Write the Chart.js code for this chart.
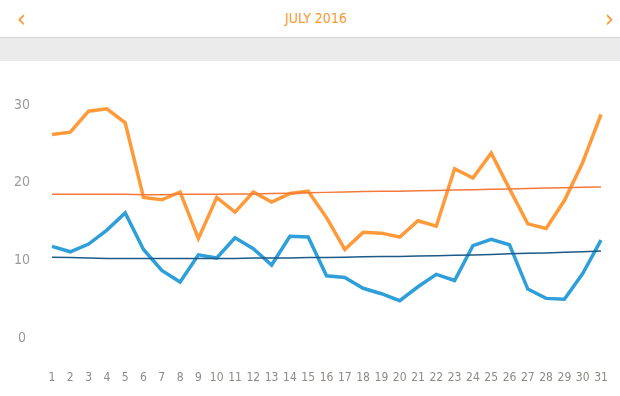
<!DOCTYPE html>
<html>
<head>
<meta charset="utf-8">
<script src="https://cdn.jsdelivr.net/npm/chart.js@4/dist/chart.umd.min.js"></script>
<style>
  html, body { margin: 0; padding: 0; background: #fff; }
  body { width: 620px; height: 396px; overflow: hidden; font-family: 'Liberation Sans Narrow', 'DejaVu Sans Condensed', sans-serif; }
  .head { position: relative; height: 37px; border-bottom: 1px solid #d4d4d4; color: #f39a32; }
  .head .title { position: absolute; left: 12px; right: 0; top: 10px; text-align: center; font-size: 14px; }
  .head .prev, .head .next { position: absolute; top: 4px; font-size: 25px; font-weight: 300; }
  .head .prev { left: 17px; }
  .head .next { right: 6px; }
  .band { height: 23px; background: #ebebeb; }
  .wrap { position: relative; width: 620px; height: 335px; }
</style>
</head>
<body>
<div class="head">
  <span class="prev">‹</span>
  <div class="title">JULY 2016</div>
  <span class="next">›</span>
</div>
<div class="band"></div>
<div class="wrap"><canvas id="chartMonth"></canvas></div>
<script>
// days of the month
const days = Array.from({ length: 31 }, (_, i) => String(i + 1));

// daily values
const orangeValues = [26.2, 26.5, 29.2, 29.5, 27.7, 18.1, 17.8, 18.8, 12.8, 18.1,
  16.2, 18.8, 17.5, 18.6, 18.9, 15.5, 11.4, 13.6, 13.5, 13.0,
  15.1, 14.4, 21.8, 20.6, 23.8, 19.2, 14.7, 14.1, 17.7, 22.6, 28.8];
const blueValues = [11.8, 11.1, 12.1, 13.9, 16.1, 11.4, 8.7, 7.2, 10.7, 10.3,
  12.9, 11.5, 9.4, 13.1, 13.0, 8.0, 7.8, 6.4, 5.7, 4.8,
  6.6, 8.2, 7.4, 11.9, 12.7, 12.0, 6.3, 5.1, 5.0, 8.3, 12.6];

// trend lines
const orangeTrend = [18.5, 18.5, 18.5, 18.5, 18.5, 18.45, 18.45, 18.5, 18.5, 18.5,
  18.55, 18.55, 18.6, 18.65, 18.7, 18.75, 18.8, 18.85, 18.9, 18.9,
  18.95, 19.0, 19.05, 19.1, 19.15, 19.2, 19.25, 19.3, 19.35, 19.4, 19.45];
const blueTrend = [10.4, 10.35, 10.3, 10.25, 10.25, 10.25, 10.25, 10.25, 10.25, 10.25,
  10.25, 10.3, 10.3, 10.3, 10.35, 10.35, 10.4, 10.45, 10.5, 10.5,
  10.55, 10.6, 10.65, 10.7, 10.75, 10.85, 10.9, 10.95, 11.05, 11.1, 11.2];

const yTicks = [0, 10, 20, 30];

const tickFont = "'Liberation Sans Narrow', 'DejaVu Sans Condensed', sans-serif";

const chart = new Chart(document.getElementById('chartMonth'), {
  type: 'line',
  data: {
    labels: days,
    datasets: [
      { data: orangeTrend, borderColor: '#f47a3c', borderWidth: 1.5, pointRadius: 0, tension: 0 },
      { data: blueTrend, borderColor: '#1d5a8a', borderWidth: 1.5, pointRadius: 0, tension: 0 },
      { data: orangeValues, borderColor: '#ff9a3a', borderWidth: 3.5, pointRadius: 0, tension: 0 },
      { data: blueValues, borderColor: '#2f9fd9', borderWidth: 3.5, pointRadius: 0, tension: 0 },
    ]
  },
  options: {
    responsive: true,
    maintainAspectRatio: false,
    animation: false,
    layout: { padding: { top: 44, right: 19, bottom: 0, left: 0 } },
    plugins: { legend: { display: false }, tooltip: { enabled: false } },
    scales: {
      x: {
        offset: false,
        // invisible tick marks push the labels down without widening the side padding
        grid: { display: true, drawOnChartArea: false, drawTicks: true, tickLength: 31, color: 'rgba(0,0,0,0)' },
        border: { display: false },
        ticks: {
          color: '#8e8a86',
          font: { family: tickFont, size: 12 },
          padding: 2,
          maxRotation: 0,
          autoSkip: false,
        },
        afterFit: s => { s.height = 58; }
      },
      y: {
        min: 0,
        max: 30,
        afterBuildTicks: s => { s.ticks = yTicks.map(v => ({ value: v })); },
        grid: { display: false, drawTicks: false },
        border: { display: false },
        ticks: {
          color: '#9a9a9a',
          font: { family: tickFont, size: 14 },
          padding: 22,
          crossAlign: 'center',
        },
        afterFit: s => { s.width = 52; }
      }
    }
  }
});
</script>
</body>
</html>
